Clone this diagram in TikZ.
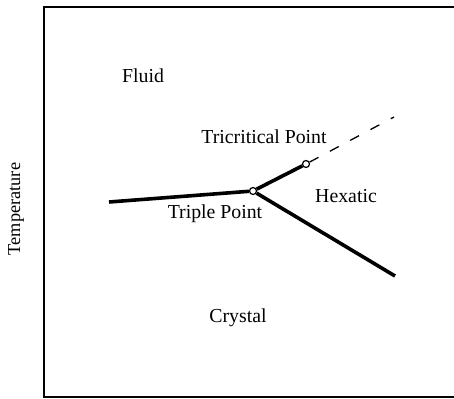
\documentclass[tikz,border=0pt]{standalone}
\usepackage{fontspec}
\setmainfont{Liberation Serif}
\begin{document}
\begin{tikzpicture}[x=1pt,y=-1pt,
  lbl/.style={font=\fontsize{19.8}{22}\selectfont, inner sep=0pt},
  phase/.style={line width=3.6pt},
  pt/.style={circle, draw, fill=white, line width=1.2pt, minimum size=7pt, inner sep=0pt}]
\useasboundingbox (0,0) rectangle (454,398);
\draw[line width=1.4pt] (454,7) -- (44,7) -- (44,397) -- (454,397);
\coordinate (L) at (109,202);
\coordinate (E) at (395,276);
\coordinate (D) at (394,117);
\node[pt] (tp) at (253,191) {};
\node[pt] (tc) at (306,164) {};
\draw[phase] (L) -- (tp);
\draw[phase] (tp) -- (E);
\draw[phase] (tp) -- (tc);
\draw[line width=1.3pt, dash pattern=on 10pt off 13pt] (tc) -- (D);
\node[lbl] (fluid) at (143,76) {Fluid};
\node[lbl] (tcl) at (264,137) {Tricritical Point};
\node[lbl] (hex) at (346,196) {Hexatic};
\node[lbl] (tpl) at (215,214) {Triple Point};
\node[lbl] (cry) at (238,318) {Crystal};
\node[lbl, font=\fontsize{18.3}{22}\selectfont, rotate=90] (temp) at (16,209) {Temperature};
\end{tikzpicture}
\end{document}
